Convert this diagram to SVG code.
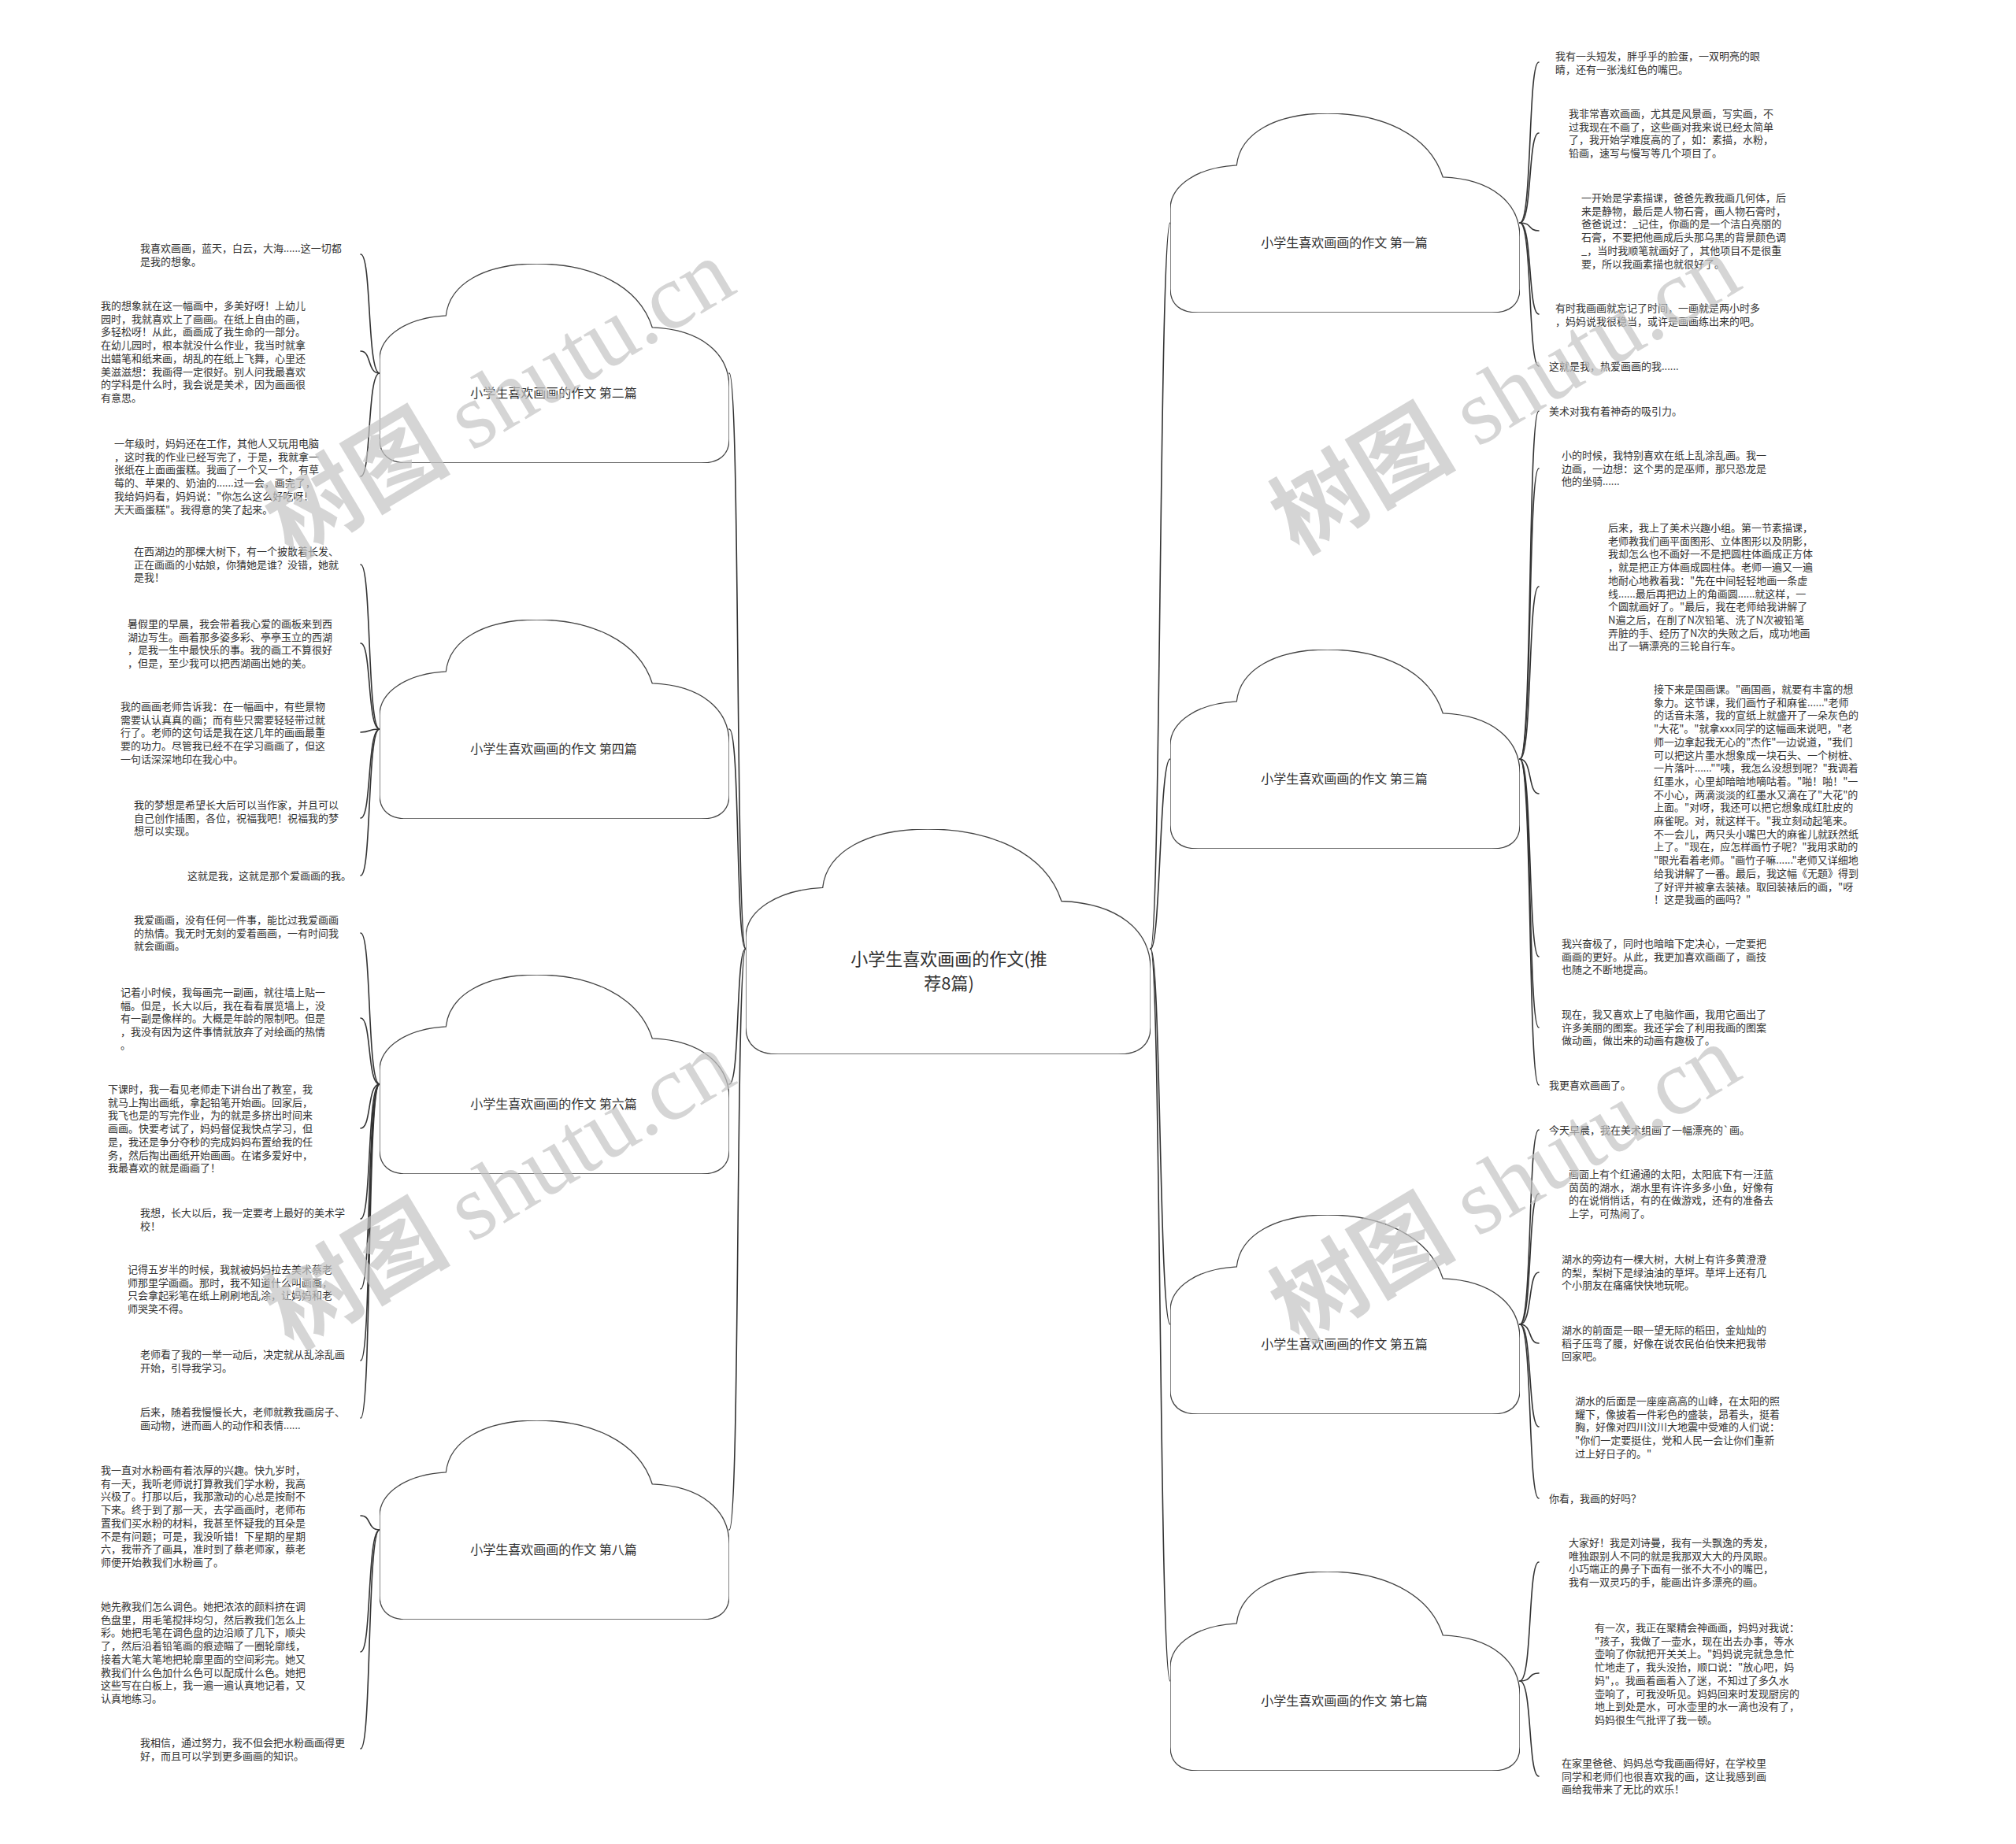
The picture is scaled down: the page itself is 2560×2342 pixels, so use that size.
<svg xmlns="http://www.w3.org/2000/svg" xmlns:xlink="http://www.w3.org/1999/xlink" width="2560" height="2342" viewBox="0 0 2560 2342">
<style>
.t{font-family:"Noto Sans CJK SC","Noto Sans",sans-serif;font-size:13px;fill:#333}
.lbl{font-family:"Noto Sans CJK SC","Noto Sans",sans-serif;font-size:16px;fill:#333;text-anchor:middle}
.root{font-family:"Noto Sans CJK SC","Noto Sans",sans-serif;font-size:22px;fill:#333;text-anchor:middle}
.c{fill:none;stroke:#333;stroke-width:1.6;stroke-linecap:round}
.wm{fill:#c4c4c4;opacity:0.7;font-size:118px;text-anchor:middle}
</style>
<defs>
<symbol id="cloud" viewBox="0 0 100 100" preserveAspectRatio="none">
<path vector-effect="non-scaling-stroke" fill="#fff" stroke="#444" stroke-width="1.3" d="M8,100 L92,100 C97,100 100,96 100,88 L100,62 C100,45 92,33 78,32 C74,10 60,0 45,0 C30,0 20,10 19,26 C8,27 0,36 0,48 L0,88 C0,96 3,100 8,100 Z"/>
</symbol>
</defs>
<rect width="2560" height="2342" fill="#fff"/>

<g id="connectors">
<path class="c" d="M947,1205 C934,1205 940,474 926,474"/>
<path class="c" d="M947,1205 C934,1205 940,926 926,926"/>
<path class="c" d="M947,1205 C934,1205 940,1377 926,1377"/>
<path class="c" d="M947,1205 C934,1205 940,1943 926,1943"/>
<path class="c" d="M1461,1205 C1474,1205 1472,283 1486,283"/>
<path class="c" d="M1461,1205 C1474,1205 1472,964 1486,964"/>
<path class="c" d="M1461,1205 C1474,1205 1472,1682 1486,1682"/>
<path class="c" d="M1461,1205 C1474,1205 1472,2135 1486,2135"/>

<path class="c" d="M482,474 C466,474 472,323 458,323"/>
<path class="c" d="M482,474 C466,474 472,446 458,446"/>
<path class="c" d="M482,474 C466,474 472,605 458,605"/>

<path class="c" d="M482,926 C466,926 472,717 458,717"/>
<path class="c" d="M482,926 C466,926 472,817 458,817"/>
<path class="c" d="M482,926 C466,926 472,930 458,930"/>
<path class="c" d="M482,926 C466,926 472,1039 458,1039"/>
<path class="c" d="M482,926 C466,926 472,1112 458,1112"/>

<path class="c" d="M482,1377 C466,1377 472,1185 458,1185"/>
<path class="c" d="M482,1377 C466,1377 472,1293 458,1293"/>
<path class="c" d="M482,1377 C466,1377 472,1433 458,1433"/>
<path class="c" d="M482,1377 C466,1377 472,1548 458,1548"/>
<path class="c" d="M482,1377 C466,1377 472,1637 458,1637"/>
<path class="c" d="M482,1377 C466,1377 472,1728 458,1728"/>
<path class="c" d="M482,1377 C466,1377 472,1801 458,1801"/>

<path class="c" d="M482,1943 C466,1943 472,1925 458,1925"/>
<path class="c" d="M482,1943 C466,1943 472,2098 458,2098"/>
<path class="c" d="M482,1943 C466,1943 472,2221 458,2221"/>

<path class="c" d="M1930,283 C1946,283 1940,79 1954,79"/>
<path class="c" d="M1930,283 C1946,283 1940,169 1954,169"/>
<path class="c" d="M1930,283 C1946,283 1940,293 1954,293"/>
<path class="c" d="M1930,283 C1946,283 1940,399 1954,399"/>
<path class="c" d="M1930,283 C1946,283 1940,465 1954,465"/>

<path class="c" d="M1930,964 C1946,964 1940,522 1954,522"/>
<path class="c" d="M1930,964 C1946,964 1940,595 1954,595"/>
<path class="c" d="M1930,964 C1946,964 1940,745 1954,745"/>
<path class="c" d="M1930,964 C1946,964 1940,1008 1954,1008"/>
<path class="c" d="M1930,964 C1946,964 1940,1215 1954,1215"/>
<path class="c" d="M1930,964 C1946,964 1940,1305 1954,1305"/>
<path class="c" d="M1930,964 C1946,964 1940,1378 1954,1378"/>

<path class="c" d="M1930,1682 C1946,1682 1940,1435 1954,1435"/>
<path class="c" d="M1930,1682 C1946,1682 1940,1516 1954,1516"/>
<path class="c" d="M1930,1682 C1946,1682 1940,1616 1954,1616"/>
<path class="c" d="M1930,1682 C1946,1682 1940,1706 1954,1706"/>
<path class="c" d="M1930,1682 C1946,1682 1940,1812 1954,1812"/>
<path class="c" d="M1930,1682 C1946,1682 1940,1903 1954,1903"/>

<path class="c" d="M1930,2135 C1946,2135 1940,1984 1954,1984"/>
<path class="c" d="M1930,2135 C1946,2135 1940,2125 1954,2125"/>
<path class="c" d="M1930,2135 C1946,2135 1940,2256 1954,2256"/>
</g>

<g id="root">
<use xlink:href="#cloud" href="#cloud" x="947" y="1053" width="514" height="286"/>
<text class="root" x="1205" y="1226">小学生喜欢画画的作文(推<tspan x="1205" dy="31">荐8篇)</tspan></text>
</g>

<g id="b1"><use xlink:href="#cloud" href="#cloud" x="1486" y="144" width="444" height="253"/><text class="lbl" x="1707" y="314">小学生喜欢画画的作文 第一篇</text></g>
<g id="b2"><use xlink:href="#cloud" href="#cloud" x="482" y="335" width="444" height="253"/><text class="lbl" x="703" y="505">小学生喜欢画画的作文 第二篇</text></g>
<g id="b3"><use xlink:href="#cloud" href="#cloud" x="1486" y="825" width="444" height="253"/><text class="lbl" x="1707" y="995">小学生喜欢画画的作文 第三篇</text></g>
<g id="b4"><use xlink:href="#cloud" href="#cloud" x="482" y="787" width="444" height="253"/><text class="lbl" x="703" y="957">小学生喜欢画画的作文 第四篇</text></g>
<g id="b5"><use xlink:href="#cloud" href="#cloud" x="1486" y="1543" width="444" height="253"/><text class="lbl" x="1707" y="1713">小学生喜欢画画的作文 第五篇</text></g>
<g id="b6"><use xlink:href="#cloud" href="#cloud" x="482" y="1238" width="444" height="253"/><text class="lbl" x="703" y="1408">小学生喜欢画画的作文 第六篇</text></g>
<g id="b7"><use xlink:href="#cloud" href="#cloud" x="1486" y="1996" width="444" height="253"/><text class="lbl" x="1707" y="2166">小学生喜欢画画的作文 第七篇</text></g>
<g id="b8"><use xlink:href="#cloud" href="#cloud" x="482" y="1804" width="444" height="253"/><text class="lbl" x="703" y="1974">小学生喜欢画画的作文 第八篇</text></g>

<g id="leaf-l2-1"><text class="t" x="178" y="320">我喜欢画画，蓝天，白云，大海......这一切都<tspan x="178" dy="16.7">是我的想象。</tspan></text></g>
<g id="leaf-l2-2"><text class="t" x="128" y="393">我的想象就在这一幅画中，多美好呀！上幼儿<tspan x="128" dy="16.7">园时，我就喜欢上了画画。在纸上自由的画，</tspan><tspan x="128" dy="16.7">多轻松呀！从此，画画成了我生命的一部分。</tspan><tspan x="128" dy="16.7">在幼儿园时，根本就没什么作业，我当时就拿</tspan><tspan x="128" dy="16.7">出蜡笔和纸来画，胡乱的在纸上飞舞，心里还</tspan><tspan x="128" dy="16.7">美滋滋想：我画得一定很好。别人问我最喜欢</tspan><tspan x="128" dy="16.7">的学科是什么时，我会说是美术，因为画画很</tspan><tspan x="128" dy="16.7">有意思。</tspan></text></g>
<g id="leaf-l2-3"><text class="t" x="145" y="568">一年级时，妈妈还在工作，其他人又玩用电脑<tspan x="145" dy="16.7">，这时我的作业已经写完了，于是，我就拿一</tspan><tspan x="145" dy="16.7">张纸在上面画蛋糕。我画了一个又一个，有草</tspan><tspan x="145" dy="16.7">莓的、苹果的、奶油的......过一会，画完了，</tspan><tspan x="145" dy="16.7">我给妈妈看，妈妈说："你怎么这么好吃呀！</tspan><tspan x="145" dy="16.7">天天画蛋糕"。我得意的笑了起来。</tspan></text></g>

<g id="leaf-l4-1"><text class="t" x="170" y="705">在西湖边的那棵大树下，有一个披散着长发、<tspan x="170" dy="16.7">正在画画的小姑娘，你猜她是谁？没错，她就</tspan><tspan x="170" dy="16.7">是我！</tspan></text></g>
<g id="leaf-l4-2"><text class="t" x="162" y="797">暑假里的早晨，我会带着我心爱的画板来到西<tspan x="162" dy="16.7">湖边写生。画着那多姿多彩、亭亭玉立的西湖</tspan><tspan x="162" dy="16.7">，是我一生中最快乐的事。我的画工不算很好</tspan><tspan x="162" dy="16.7">，但是，至少我可以把西湖画出她的美。</tspan></text></g>
<g id="leaf-l4-3"><text class="t" x="153" y="902">我的画画老师告诉我：在一幅画中，有些景物<tspan x="153" dy="16.7">需要认认真真的画；而有些只需要轻轻带过就</tspan><tspan x="153" dy="16.7">行了。老师的这句话是我在这几年的画画最重</tspan><tspan x="153" dy="16.7">要的功力。尽管我已经不在学习画画了，但这</tspan><tspan x="153" dy="16.7">一句话深深地印在我心中。</tspan></text></g>
<g id="leaf-l4-4"><text class="t" x="170" y="1027">我的梦想是希望长大后可以当作家，并且可以<tspan x="170" dy="16.7">自己创作插图，各位，祝福我吧！祝福我的梦</tspan><tspan x="170" dy="16.7">想可以实现。</tspan></text></g>
<g id="leaf-l4-5"><text class="t" x="238" y="1117">这就是我，这就是那个爱画画的我。</text></g>

<g id="leaf-l6-1"><text class="t" x="170" y="1173">我爱画画，没有任何一件事，能比过我爱画画<tspan x="170" dy="16.7">的热情。我无时无刻的爱着画画，一有时间我</tspan><tspan x="170" dy="16.7">就会画画。</tspan></text></g>
<g id="leaf-l6-2"><text class="t" x="153" y="1265">记着小时候，我每画完一副画，就往墙上贴一<tspan x="153" dy="16.7">幅。但是，长大以后，我在看看展览墙上，没</tspan><tspan x="153" dy="16.7">有一副是像样的。大概是年龄的限制吧。但是</tspan><tspan x="153" dy="16.7">，我没有因为这件事情就放弃了对绘画的热情</tspan><tspan x="153" dy="16.7">。</tspan></text></g>
<g id="leaf-l6-3"><text class="t" x="137" y="1388">下课时，我一看见老师走下讲台出了教室，我<tspan x="137" dy="16.7">就马上掏出画纸，拿起铅笔开始画。回家后，</tspan><tspan x="137" dy="16.7">我飞也是的写完作业，为的就是多挤出时间来</tspan><tspan x="137" dy="16.7">画画。快要考试了，妈妈督促我快点学习，但</tspan><tspan x="137" dy="16.7">是，我还是争分夺秒的完成妈妈布置给我的任</tspan><tspan x="137" dy="16.7">务，然后掏出画纸开始画画。在诸多爱好中，</tspan><tspan x="137" dy="16.7">我最喜欢的就是画画了！</tspan></text></g>
<g id="leaf-l6-4"><text class="t" x="178" y="1545">我想，长大以后，我一定要考上最好的美术学<tspan x="178" dy="16.7">校！</tspan></text></g>
<g id="leaf-l6-5"><text class="t" x="162" y="1617">记得五岁半的时候，我就被妈妈拉去美术蔡老<tspan x="162" dy="16.7">师那里学画画。那时，我不知道什么叫画画，</tspan><tspan x="162" dy="16.7">只会拿起彩笔在纸上刷刷地乱涂，让妈妈和老</tspan><tspan x="162" dy="16.7">师哭笑不得。</tspan></text></g>
<g id="leaf-l6-6"><text class="t" x="178" y="1725">老师看了我的一举一动后，决定就从乱涂乱画<tspan x="178" dy="16.7">开始，引导我学习。</tspan></text></g>
<g id="leaf-l6-7"><text class="t" x="178" y="1798">后来，随着我慢慢长大，老师就教我画房子、<tspan x="178" dy="16.7">画动物，进而画人的动作和表情......</tspan></text></g>

<g id="leaf-l8-1"><text class="t" x="128" y="1872">我一直对水粉画有着浓厚的兴趣。快九岁时，<tspan x="128" dy="16.7">有一天，我听老师说打算教我们学水粉，我高</tspan><tspan x="128" dy="16.7">兴极了。打那以后，我那激动的心总是按耐不</tspan><tspan x="128" dy="16.7">下来。终于到了那一天，去学画画时，老师布</tspan><tspan x="128" dy="16.7">置我们买水粉的材料，我甚至怀疑我的耳朵是</tspan><tspan x="128" dy="16.7">不是有问题；可是，我没听错！下星期的星期</tspan><tspan x="128" dy="16.7">六，我带齐了画具，准时到了蔡老师家，蔡老</tspan><tspan x="128" dy="16.7">师便开始教我们水粉画了。</tspan></text></g>
<g id="leaf-l8-2"><text class="t" x="128" y="2045">她先教我们怎么调色。她把浓浓的颜料挤在调<tspan x="128" dy="16.7">色盘里，用毛笔搅拌均匀，然后教我们怎么上</tspan><tspan x="128" dy="16.7">彩。她把毛笔在调色盘的边沿顺了几下，顺尖</tspan><tspan x="128" dy="16.7">了，然后沿着铅笔画的痕迹瞄了一圈轮廓线，</tspan><tspan x="128" dy="16.7">接着大笔大笔地把轮廓里面的空间彩完。她又</tspan><tspan x="128" dy="16.7">教我们什么色加什么色可以配成什么色。她把</tspan><tspan x="128" dy="16.7">这些写在白板上，我一遍一遍认真地记着，又</tspan><tspan x="128" dy="16.7">认真地练习。</tspan></text></g>
<g id="leaf-l8-3"><text class="t" x="178" y="2218">我相信，通过努力，我不但会把水粉画画得更<tspan x="178" dy="16.7">好，而且可以学到更多画画的知识。</tspan></text></g>

<g id="leaf-r1-1"><text class="t" x="1975" y="76">我有一头短发，胖乎乎的脸蛋，一双明亮的眼<tspan x="1975" dy="16.7">睛，还有一张浅红色的嘴巴。</tspan></text></g>
<g id="leaf-r1-2"><text class="t" x="1992" y="149">我非常喜欢画画，尤其是风景画，写实画，不<tspan x="1992" dy="16.7">过我现在不画了，这些画对我来说已经太简单</tspan><tspan x="1992" dy="16.7">了，我开始学难度高的了，如：素描，水粉，</tspan><tspan x="1992" dy="16.7">铅画，速写与慢写等几个项目了。</tspan></text></g>
<g id="leaf-r1-3"><text class="t" x="2008" y="256">一开始是学素描课，爸爸先教我画几何体，后<tspan x="2008" dy="16.7">来是静物，最后是人物石膏，画人物石膏时，</tspan><tspan x="2008" dy="16.7">爸爸说过：_记住，你画的是一个洁白亮丽的</tspan><tspan x="2008" dy="16.7">石膏，不要把他画成后头那乌黑的背景颜色调</tspan><tspan x="2008" dy="16.7">_，当时我顺笔就画好了，其他项目不是很重</tspan><tspan x="2008" dy="16.7">要，所以我画素描也就很好了。</tspan></text></g>
<g id="leaf-r1-4"><text class="t" x="1975" y="396">有时我画画就忘记了时间，一画就是两小时多<tspan x="1975" dy="16.7">，妈妈说我很稳当，或许是画画练出来的吧。</tspan></text></g>
<g id="leaf-r1-5"><text class="t" x="1967" y="470">这就是我，热爱画画的我......</text></g>

<g id="leaf-r3-1"><text class="t" x="1967" y="527">美术对我有着神奇的吸引力。</text></g>
<g id="leaf-r3-2"><text class="t" x="1983" y="583">小的时候，我特别喜欢在纸上乱涂乱画。我一<tspan x="1983" dy="16.7">边画，一边想：这个男的是巫师，那只恐龙是</tspan><tspan x="1983" dy="16.7">他的坐骑......</tspan></text></g>
<g id="leaf-r3-3"><text class="t" x="2042" y="675">后来，我上了美术兴趣小组。第一节素描课，<tspan x="2042" dy="16.7">老师教我们画平面图形、立体图形以及阴影，</tspan><tspan x="2042" dy="16.7">我却怎么也不画好一不是把圆柱体画成正方体</tspan><tspan x="2042" dy="16.7">，就是把正方体画成圆柱体。老师一遍又一遍</tspan><tspan x="2042" dy="16.7">地耐心地教着我："先在中间轻轻地画一条虚</tspan><tspan x="2042" dy="16.7">线......最后再把边上的角画圆......就这样，一</tspan><tspan x="2042" dy="16.7">个圆就画好了。"最后，我在老师给我讲解了</tspan><tspan x="2042" dy="16.7">N遍之后，在削了N次铅笔、洗了N次被铅笔</tspan><tspan x="2042" dy="16.7">弄脏的手、经历了N次的失败之后，成功地画</tspan><tspan x="2042" dy="16.7">出了一辆漂亮的三轮自行车。</tspan></text></g>
<g id="leaf-r3-4"><text class="t" x="2100" y="880">接下来是国画课。"画国画，就要有丰富的想<tspan x="2100" dy="16.7">象力。这节课，我们画竹子和麻雀......"老师</tspan><tspan x="2100" dy="16.7">的话音未落，我的宣纸上就盛开了一朵灰色的</tspan><tspan x="2100" dy="16.7">"大花"。"就拿xxx同学的这幅画来说吧，"老</tspan><tspan x="2100" dy="16.7">师一边拿起我无心的"杰作"一边说道，"我们</tspan><tspan x="2100" dy="16.7">可以把这片墨水想象成一块石头、一个树桩、</tspan><tspan x="2100" dy="16.7">一片落叶......""咦，我怎么没想到呢？"我调着</tspan><tspan x="2100" dy="16.7">红墨水，心里却暗暗地嘀咕着。"啪！啪！"一</tspan><tspan x="2100" dy="16.7">不小心，两滴淡淡的红墨水又滴在了"大花"的</tspan><tspan x="2100" dy="16.7">上面。"对呀，我还可以把它想象成红肚皮的</tspan><tspan x="2100" dy="16.7">麻雀呢。对，就这样干。"我立刻动起笔来。</tspan><tspan x="2100" dy="16.7">不一会儿，两只头小嘴巴大的麻雀儿就跃然纸</tspan><tspan x="2100" dy="16.7">上了。"现在，应怎样画竹子呢？"我用求助的</tspan><tspan x="2100" dy="16.7">"眼光看着老师。"画竹子嘛......"老师又详细地</tspan><tspan x="2100" dy="16.7">给我讲解了一番。最后，我这幅《无题》得到</tspan><tspan x="2100" dy="16.7">了好评并被拿去装裱。取回装裱后的画，"呀</tspan><tspan x="2100" dy="16.7">！这是我画的画吗？"</tspan></text></g>
<g id="leaf-r3-5"><text class="t" x="1983" y="1203">我兴奋极了，同时也暗暗下定决心，一定要把<tspan x="1983" dy="16.7">画画的更好。从此，我更加喜欢画画了，画技</tspan><tspan x="1983" dy="16.7">也随之不断地提高。</tspan></text></g>
<g id="leaf-r3-6"><text class="t" x="1983" y="1293">现在，我又喜欢上了电脑作画，我用它画出了<tspan x="1983" dy="16.7">许多美丽的图案。我还学会了利用我画的图案</tspan><tspan x="1983" dy="16.7">做动画，做出来的动画有趣极了。</tspan></text></g>
<g id="leaf-r3-7"><text class="t" x="1967" y="1383">我更喜欢画画了。</text></g>

<g id="leaf-r5-1"><text class="t" x="1967" y="1440">今天早晨，我在美术组画了一幅漂亮的`画。</text></g>
<g id="leaf-r5-2"><text class="t" x="1992" y="1496">画面上有个红通通的太阳，太阳底下有一汪蓝<tspan x="1992" dy="16.7">茵茵的湖水，湖水里有许许多多小鱼，好像有</tspan><tspan x="1992" dy="16.7">的在说悄悄话，有的在做游戏，还有的准备去</tspan><tspan x="1992" dy="16.7">上学，可热闹了。</tspan></text></g>
<g id="leaf-r5-3"><text class="t" x="1983" y="1604">湖水的旁边有一棵大树，大树上有许多黄澄澄<tspan x="1983" dy="16.7">的梨，梨树下是绿油油的草坪。草坪上还有几</tspan><tspan x="1983" dy="16.7">个小朋友在痛痛快快地玩呢。</tspan></text></g>
<g id="leaf-r5-4"><text class="t" x="1983" y="1694">湖水的前面是一眼一望无际的稻田，金灿灿的<tspan x="1983" dy="16.7">稻子压弯了腰，好像在说农民伯伯快来把我带</tspan><tspan x="1983" dy="16.7">回家吧。</tspan></text></g>
<g id="leaf-r5-5"><text class="t" x="2000" y="1784">湖水的后面是一座座高高的山峰，在太阳的照<tspan x="2000" dy="16.7">耀下，像披着一件彩色的盛装，昂着头，挺着</tspan><tspan x="2000" dy="16.7">胸，好像对四川汶川大地震中受难的人们说：</tspan><tspan x="2000" dy="16.7">"你们一定要挺住，党和人民一会让你们重新</tspan><tspan x="2000" dy="16.7">过上好日子的。"</tspan></text></g>
<g id="leaf-r5-6"><text class="t" x="1967" y="1908">你看，我画的好吗？</text></g>

<g id="leaf-r7-1"><text class="t" x="1992" y="1964">大家好！我是刘诗曼，我有一头飘逸的秀发，<tspan x="1992" dy="16.7">唯独跟别人不同的就是我那双大大的丹凤眼。</tspan><tspan x="1992" dy="16.7">小巧端正的鼻子下面有一张不大不小的嘴巴，</tspan><tspan x="1992" dy="16.7">我有一双灵巧的手，能画出许多漂亮的画。</tspan></text></g>
<g id="leaf-r7-2"><text class="t" x="2025" y="2072">有一次，我正在聚精会神画画，妈妈对我说：<tspan x="2025" dy="16.7">"孩子，我做了一壶水，现在出去办事，等水</tspan><tspan x="2025" dy="16.7">壶响了你就把开关关上。"妈妈说完就急急忙</tspan><tspan x="2025" dy="16.7">忙地走了，我头没抬，顺口说："放心吧，妈</tspan><tspan x="2025" dy="16.7">妈"，。我画着画着入了迷，不知过了多久水</tspan><tspan x="2025" dy="16.7">壶响了，可我没听见。妈妈回来时发现厨房的</tspan><tspan x="2025" dy="16.7">地上到处是水，可水壶里的水一滴也没有了，</tspan><tspan x="2025" dy="16.7">妈妈很生气批评了我一顿。</tspan></text></g>
<g id="leaf-r7-3"><text class="t" x="1983" y="2244">在家里爸爸、妈妈总夸我画画得好，在学校里<tspan x="1983" dy="16.7">同学和老师们也很喜欢我的画，这让我感到画</tspan><tspan x="1983" dy="16.7">画给我带来了无比的欢乐！</tspan></text></g>

<g id="watermark">
<text class="wm" transform="translate(655,540) rotate(-31)"><tspan font-family="Noto Sans CJK SC" font-weight="bold">树图</tspan><tspan font-family="Liberation Serif"> shutu.cn</tspan></text>
<text class="wm" transform="translate(1932,535) rotate(-31)"><tspan font-family="Noto Sans CJK SC" font-weight="bold">树图</tspan><tspan font-family="Liberation Serif"> shutu.cn</tspan></text>
<text class="wm" transform="translate(655,1545) rotate(-31)"><tspan font-family="Noto Sans CJK SC" font-weight="bold">树图</tspan><tspan font-family="Liberation Serif"> shutu.cn</tspan></text>
<text class="wm" transform="translate(1932,1538) rotate(-31)"><tspan font-family="Noto Sans CJK SC" font-weight="bold">树图</tspan><tspan font-family="Liberation Serif"> shutu.cn</tspan></text>
</g>
</svg>
